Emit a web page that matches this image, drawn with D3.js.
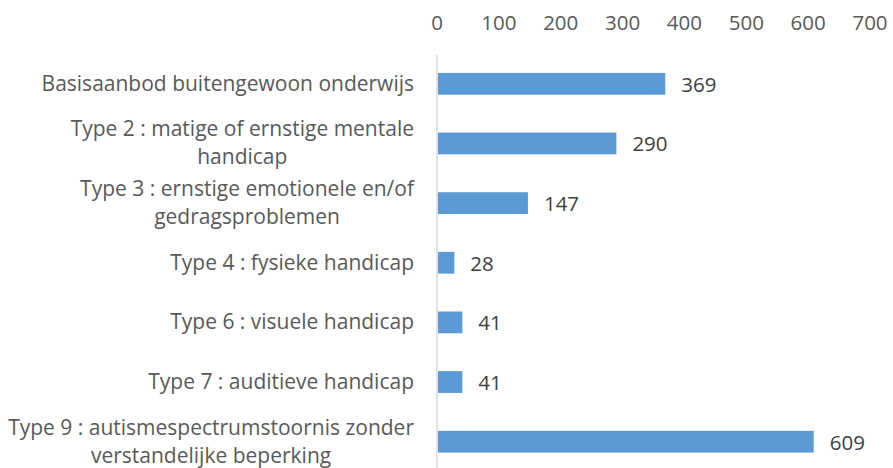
<!DOCTYPE html>
<html>
<head>
<meta charset="utf-8">
<script src="https://cdn.jsdelivr.net/npm/d3@7"></script>
<style>
  body { margin: 0; background: #fff; }
  svg text { font-family: "Open Sans", sans-serif; font-size: 20.5px; }
  svg text.cat-label { font-size: 21px; }
</style>
</head>
<body>
<div id="chartArea"></div>
<script>
// data

const categories = [
  ["Basisaanbod buitengewoon onderwijs"],
  ["Type 2 : matige of ernstige mentale", "handicap"],
  ["Type 3 : ernstige emotionele en/of", "gedragsproblemen"],
  ["Type 4 : fysieke handicap"],
  ["Type 6 : visuele handicap"],
  ["Type 7 : auditieve handicap"],
  ["Type 9 : autismespectrumstoornis zonder", "verstandelijke beperking"]
];
const values = [369, 290, 147, 28, 41, 41, 609];
const ticks = [0, 100, 200, 300, 400, 500, 600, 700];

// chart

const chart = {};
chart.width = 893;
chart.height = 468;
chart.svg = d3
  .select("#chartArea")
  .append("svg")
  .attr("width", chart.width)
  .attr("height", chart.height);

const x = d3.scaleLinear([0, 700], [437, 870]);
const y = d3
  .scaleBand(d3.range(categories.length), [54, 471.5])
  .paddingInner(0.635)
  .paddingOuter(0.3175);

// top axis, labels only
chart.svg
  .append("g")
  .selectAll("text")
  .data(ticks)
  .join("text")
  .attr("x", (d) => x(d))
  .attr("y", 30)
  .attr("text-anchor", "middle")
  .attr("fill", "#595959")
  .text((d) => d);

// zero line
chart.svg
  .append("line")
  .attr("x1", x(0))
  .attr("x2", x(0))
  .attr("y1", 55)
  .attr("y2", chart.height)
  .attr("stroke", "#d9d9d9")
  .attr("stroke-width", 1.5);

// bars
chart.svg
  .append("g")
  .selectAll("rect")
  .data(values)
  .join("rect")
  .attr("x", x(0) + 1)
  .attr("y", (d, i) => y(i))
  .attr("width", (d) => x(d) - x(0) - 1)
  .attr("height", y.bandwidth())
  .attr("fill", "#5b9bd5");

// value labels
chart.svg
  .append("g")
  .selectAll("text")
  .data(values)
  .join("text")
  .attr("x", (d) => x(d) + 16)
  .attr("y", (d, i) => y(i) + y.bandwidth() / 2 + 8)
  .attr("fill", "#404040")
  .text((d) => d);

// category labels, multi-line ones centred under each other
const labelRight = 414;
const lineHeight = 28;
categories.forEach((lines, i) => {
  const cy = y(i) + y.bandwidth() / 2;
  const g = chart.svg.append("g");
  const texts = g
    .selectAll("text")
    .data(lines)
    .join("text")
    .attr("class", "cat-label")
    .attr("fill", "#595959")
    .attr("text-anchor", "middle")
    .attr("y", (d, j) => cy + 7 + (j - (lines.length - 1) / 2) * lineHeight)
    .text((d) => d);
  let maxW = 0;
  texts.each(function () {
    maxW = Math.max(maxW, this.getComputedTextLength());
  });
  texts.attr("x", labelRight - maxW / 2);
});
</script>
</body>
</html>
